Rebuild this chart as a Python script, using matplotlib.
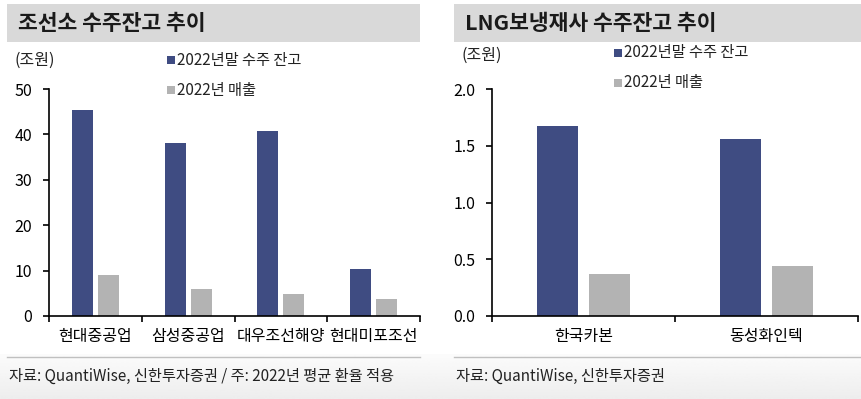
import numpy as np
import matplotlib
matplotlib.use("Agg")
import matplotlib.pyplot as plt
from matplotlib.patches import Rectangle

plt.rcParams['font.family'] = ['Noto Sans CJK KR', 'DejaVu Sans']

# data
yards = ['현대중공업', '삼성중공업', '대우조선해양', '현대미포조선']
yard_backlog = [45.4, 38.1, 40.7, 10.4]
yard_sales = [9.0, 5.9, 4.8, 3.7]

lng = ['한국카본', '동성화인텍']
lng_backlog = [1.67, 1.56]
lng_sales = [0.37, 0.44]

legend_labels = ['2022년말 수주 잔고', '2022년 매출']
blue = '#3f4c82'
gray = '#b3b3b3'
W, H = 861, 399

fig = plt.figure(figsize=(W / 100, H / 100), dpi=100)
fig.patch.set_facecolor('white')

# soft gray gradient at the bottom
bg = fig.add_axes([0, 0, 1, 45 / H], zorder=-5)
grad = np.linspace(0.985, 0.93, 50).reshape(-1, 1)
bg.imshow(np.repeat(grad, 2, axis=1), cmap='gray', vmin=0, vmax=1,
          aspect='auto', extent=[0, 1, 0, 1], origin='upper')
bg.axis('off')


def px(x0, y0, x1, y1):
    return [x0 / W, 1 - y1 / H, (x1 - x0) / W, (y1 - y0) / H]


def panel(x0, x1, title, title_x, cats, v1, v2, ymax, yticks, yfmt,
          legend_xy, unit_xy, src, band):
    # title band
    fig.patches.append(Rectangle((band[0] / W, 1 - 42 / H), (band[1] - band[0]) / W,
                                 38 / H, transform=fig.transFigure,
                                 facecolor='#d9d9d9', edgecolor='none'))
    fig.text(title_x / W, 1 - 23 / H, title, fontsize=15.5, fontweight='bold',
             color='#1a1a1a', va='center', ha='left')
    # footer line + source
    fig.add_artist(plt.Line2D([band[0] / W, band[1] / W], [1 - 357 / H] * 2,
                              transform=fig.transFigure, color='#c0c0c0', lw=1))
    fig.text((band[0] + 2) / W, 1 - 376 / H, src, fontsize=11, color='#222222',
             va='center', ha='left')

    ax = fig.add_axes(px(x0, 89, x1, 316))
    x = np.arange(len(cats))
    ax.bar(x - 0.14, v1, width=0.225, color=blue)
    ax.bar(x + 0.14, v2, width=0.225, color=gray)
    ax.set_xlim(-0.5, len(cats) - 0.5)
    ax.set_ylim(0, ymax)
    ax.set_yticks(yticks)
    ax.set_yticklabels([yfmt.format(t) for t in yticks], fontsize=11.5)
    ax.set_xticks(x)
    ax.set_xticklabels(cats, fontsize=11.5)
    ax.set_xticks(np.arange(len(cats) + 1) - 0.5, minor=True)
    ax.tick_params(axis='x', which='major', length=0, pad=9)
    ax.tick_params(axis='x', which='minor', length=4, direction='out', width=1.2)
    ax.tick_params(axis='y', length=4, direction='out', width=1.2, pad=8)
    for s in ['top', 'right']:
        ax.spines[s].set_visible(False)
    for s in ['left', 'bottom']:
        ax.spines[s].set_linewidth(1.2)
    ax.set_facecolor('none')

    # unit
    fig.text(unit_xy[0] / W, 1 - unit_xy[1] / H, '(조원)', fontsize=11.5,
             va='center', ha='left', color='#222222')
    # legend
    lx, ly = legend_xy
    for i, (lab, c) in enumerate(zip(legend_labels, [blue, gray])):
        yy = ly + i * 30
        fig.patches.append(Rectangle(((lx - 4) / W, 1 - (yy + 4) / H), 8 / W, 8 / H,
                                     transform=fig.transFigure, facecolor=c,
                                     edgecolor='none'))
        fig.text((lx + 6) / W, 1 - yy / H, lab, fontsize=11, va='center',
                 ha='left', color='#222222')
    return ax


panel(49, 420, '조선소 수주잔고 추이', 18, yards, yard_backlog, yard_sales, 50,
      [0, 10, 20, 30, 40, 50], '{:.0f}', (171, 60), (14, 60),
      '자료: QuantiWise, 신한투자증권 / 주: 2022년 평균 환율 적용', (7, 420))
panel(492, 858, 'LNG보냉재사 수주잔고 추이', 465, lng, lng_backlog, lng_sales, 2.0,
      [0.0, 0.5, 1.0, 1.5, 2.0], '{:.1f}', (618, 53), (461, 55),
      '자료: QuantiWise, 신한투자증권', (454, 861))

fig.savefig('out.png', dpi=100)
